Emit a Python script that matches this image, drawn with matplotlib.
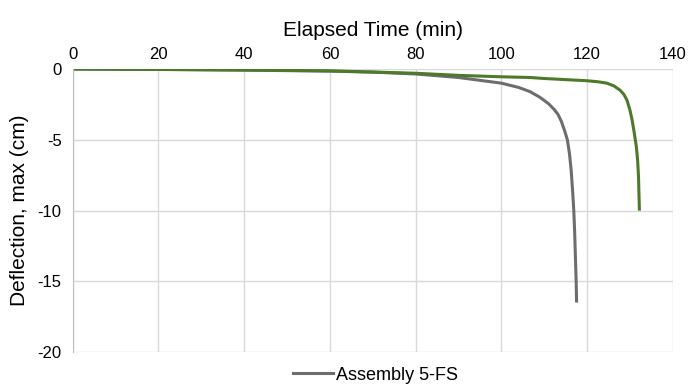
import numpy as np
import matplotlib.pyplot as plt

plt.rcParams['font.family'] = ['Liberation Sans', 'DejaVu Sans']
plt.rcParams['axes.unicode_minus'] = False

# Assembly 5-FS (gray)
time_5fs = [0, 20, 40, 60, 70, 80, 90, 100, 104, 106.7, 109, 111, 112.3, 113.2, 114.0,
            114.8, 115.4, 115.9, 116.3, 116.6, 116.9, 117.1, 117.3, 117.45, 117.55]
defl_5fs = [0, -0.03, -0.08, -0.15, -0.22, -0.35, -0.6, -1.0, -1.3, -1.6, -2.0, -2.45, -2.85,
            -3.2, -3.7, -4.4, -5.0, -6.0, -7.2, -8.5, -10.0, -11.5, -13.5, -15.0, -16.4]

# second assembly (green, not in legend)
time_2 = [0, 20, 40, 60, 80, 90, 100, 106.7, 110, 115, 120, 122.5, 124.6, 126.3, 127.7,
          128.6, 129.3, 130.0, 130.5, 131.0, 131.5, 131.8, 132.0, 132.1, 132.2]
defl_2 = [0, -0.03, -0.07, -0.13, -0.3, -0.45, -0.55, -0.6, -0.67, -0.75, -0.83, -0.9, -1.0,
          -1.2, -1.5, -1.8, -2.2, -2.9, -3.6, -4.5, -5.5, -6.5, -7.6, -8.8, -9.9]

fig = plt.figure(figsize=(6.89, 3.84), dpi=100)
ax = fig.add_axes([0.1055, 0.0833, 0.871, 0.737])

ax.plot(time_5fs, defl_5fs, color='#6d6d6d', lw=2.2, label='Assembly 5-FS',
        solid_joinstyle='round')
ax.plot(time_2, defl_2, color='#4c7a2a', lw=2.2, label='_nolegend_',
        solid_joinstyle='round')

ax.set_xlim(0, 140)
ax.set_ylim(-20, 0)
ax.set_xticks(np.arange(0, 141, 20))
ax.set_yticks([0, -5, -10, -15, -20])
ax.xaxis.tick_top()
ax.xaxis.set_label_position('top')
ax.tick_params(axis='both', length=0, labelsize=12, colors='#000000')
ax.tick_params(axis='x', pad=5)
ax.tick_params(axis='y', pad=8)
ax.grid(True, color='#d9d9d9', lw=1)
ax.set_axisbelow(True)
for s in ['top', 'right', 'bottom']:
    ax.spines[s].set_visible(False)
ax.spines['left'].set_color('#bfbfbf')

ax.set_xlabel('Elapsed Time (min)', fontsize=15, labelpad=8)
ax.set_ylabel('Deflection, max (cm)', fontsize=15, labelpad=6)

ax.legend(loc='center', bbox_to_anchor=(0.505, -23 / 283), frameon=False, fontsize=13,
          handlelength=2.2, handletextpad=0.2, borderpad=0, borderaxespad=0)

fig.savefig('out.png', dpi=100)
